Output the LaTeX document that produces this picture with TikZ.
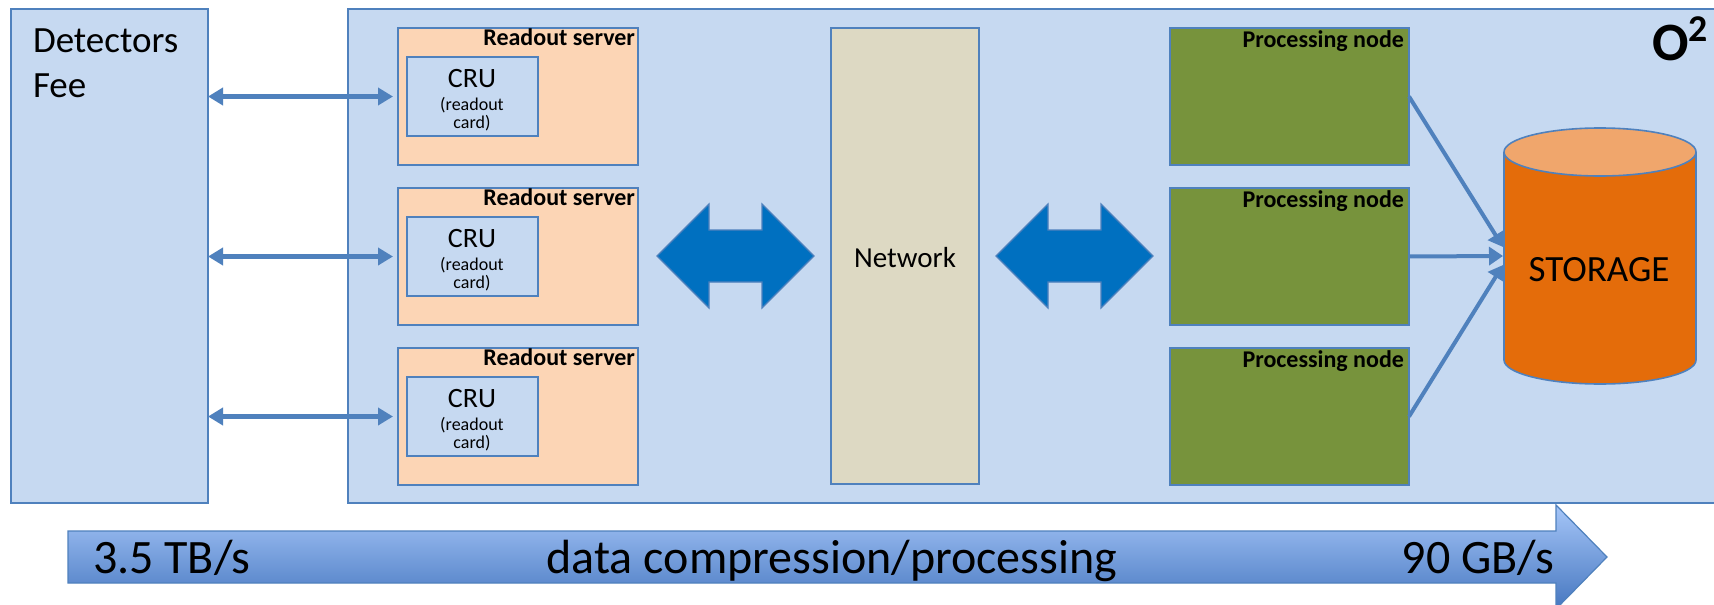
\documentclass[tikz,border=0pt]{standalone}
\usepackage{fontspec}
\setmainfont{Carlito}
\usetikzlibrary{arrows.meta,calc}

\definecolor{panel}{HTML}{C6D9F1}
\definecolor{edge}{HTML}{4F81BD}
\definecolor{server}{HTML}{FCD5B5}
\definecolor{net}{HTML}{DDD9C3}
\definecolor{proc}{HTML}{77933C}
\definecolor{drum}{HTML}{E46C0A}
\definecolor{drumtop}{HTML}{F0A66C}
\definecolor{flow}{HTML}{0070C0}
\definecolor{bandtop}{HTML}{A6C6F8}
\definecolor{bandbot}{HTML}{4677C0}

% rectangle node from its top-left and bottom-right corners (pixel grid)
\newcommand\pxbox[6]{\node[#6, anchor=north west,
  minimum width={((#4)-(#2))*0.5pt}, minimum height={((#5)-(#3))*0.5pt}] (#1) at (#2,#3) {};}

\begin{document}
\begin{tikzpicture}[x=0.5pt,y=-0.5pt,
  box/.style={draw=edge, line width=0.8pt, inner sep=0pt, outer sep=0pt},
  panelbox/.style={box, fill=panel},
  serverbox/.style={box, fill=server},
  netbox/.style={box, fill=net},
  procbox/.style={box, fill=proc},
  txt/.style={inner sep=0pt, outer sep=0pt, text=black},
  boldlbl/.style={txt, font=\bfseries\fontsize{12}{14}\selectfont, anchor=base east},
  bandtxt/.style={txt, font=\fontsize{24}{28}\selectfont},
  conn/.style={draw=edge, line width=2.2pt,
    {Triangle[length=7.5pt,width=8.5pt]}-{Triangle[length=7.5pt,width=8.5pt]}},
  feed/.style={draw=edge, line width=2pt, -{Triangle[length=7pt,width=9pt]}},
  bigarrow/.style={fill=flow, draw=edge, line width=0.6pt}]

\useasboundingbox (0,0) rectangle (1714,605);
\clip (0,0) rectangle (1714,605);
\fill[white] (0,0) rectangle (1714,605);

% front-end electronics and the O2 farm
\pxbox{det}{11}{9}{208}{503}{panelbox}
\node[txt, anchor=base west, font=\fontsize{18.5}{22}\selectfont] (detl1) at (33,53) {Detectors};
\node[txt, anchor=base west, font=\fontsize{18.5}{22}\selectfont] (detl2) at (33,97) {Fee};

\pxbox{otwo}{348}{9}{1730}{503}{panelbox}
\node[txt, anchor=base east, font=\bfseries\fontsize{27}{32}\selectfont] (otwol) at (1709,60) {O\textsuperscript{2}};

% readout servers with their CRUs, and the processing nodes
\foreach \i/\t in {1/28,2/188,3/348} {
  \pxbox{rs\i}{398}{\t}{638}{\t+137}{serverbox}
  \node[boldlbl] (rsl\i) at (635,\t+17) {Readout server};
  \pxbox{cru\i}{407}{\t+29}{538}{\t+108}{panelbox}
  \node[txt, anchor=base, font=\fontsize{14}{16}\selectfont] (crut\i) at (472,\t+59) {CRU};
  \node[txt, anchor=base, font=\fontsize{9}{10}\selectfont] (crua\i) at (472,\t+82) {(readout};
  \node[txt, anchor=base, font=\fontsize{9}{10}\selectfont] (crub\i) at (472,\t+100) {card)};
  \pxbox{pn\i}{1170}{\t}{1409}{\t+137}{procbox}
  \node[boldlbl] (pnl\i) at (1404,\t+19) {Processing node};
  \draw[conn] (det.east |- rs\i.west) -- ([xshift=-2.5pt]rs\i.west);
}

% network switch
\pxbox{net}{831}{28}{979}{484}{netbox}
\node[txt, font=\fontsize{14.5}{17}\selectfont] (netl) at (905,258) {Network};

% double block arrows on both sides of the network
\foreach \o in {0,339} {
  \path[bigarrow] (657+\o,256) -- (709+\o,204) -- (709+\o,230) -- (762+\o,230)
    -- (762+\o,204) -- (814+\o,256) -- (762+\o,308) -- (762+\o,282)
    -- (709+\o,282) -- (709+\o,308) -- cycle;
}

% storage cylinder
\fill[drum] (1504,152) -- (1504,360)
  arc[start angle=180, end angle=360, x radius=48pt, y radius=12pt] -- (1696,152) -- cycle;
\draw[edge, line width=0.8pt] (1504,152) -- (1504,360)
  arc[start angle=180, end angle=360, x radius=48pt, y radius=12pt] -- (1696,152);
\filldraw[fill=drumtop, draw=edge, line width=0.8pt] (1600,152) ellipse [x radius=48pt, y radius=12pt];
\node[txt, font=\fontsize{18.5}{22}\selectfont] (stor) at (1599,270) {STORAGE};

\coordinate (s1) at (1503,247);
\coordinate (s2) at (1503,256);
\coordinate (s3) at (1503,265);
\draw[feed] (pn1.east) -- (s1);
\draw[feed] (pn2.east) -- (s2);
\draw[feed] (pn3.east) -- (s3);

% data-rate band along the bottom
\shadedraw[top color=bandtop, bottom color=bandbot, draw=edge, line width=0.6pt]
  (68,531) -- (1556,531) -- (1556,505) -- (1607,557) -- (1556,609) -- (1556,583) -- (68,583) -- cycle;
\node[bandtxt, anchor=base west] (rin) at (93,573) {3.5 TB/s};
\node[bandtxt, anchor=base] (rmid) at (832,573) {data compression/processing};
\node[bandtxt, anchor=base east] (rout) at (1554,573) {90 GB/s};

\end{tikzpicture}
\end{document}
